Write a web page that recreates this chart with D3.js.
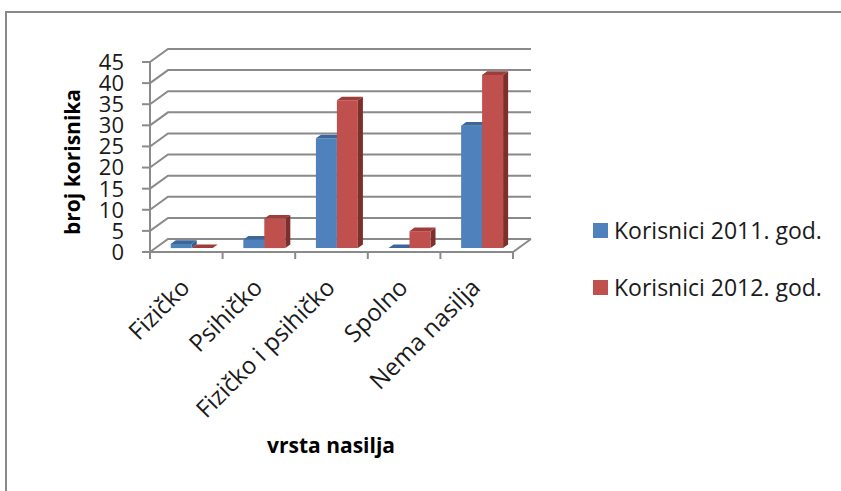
<!DOCTYPE html>
<html><head><meta charset="utf-8">
<script src="https://cdn.jsdelivr.net/npm/d3@7"></script>
<style>html,body{margin:0;padding:0;background:#fff;}svg{display:block;}</style>
</head><body>
<svg id="c" width="841" height="491"></svg>
<script>
const categories = ["Fizičko", "Psihičko", "Fizičko i psihičko", "Spolno", "Nema nasilja"];
const seriesNames = ["Korisnici 2011. god.", "Korisnici 2012. god."];
const values2011 = [1, 2, 26, 0, 29];
const values2012 = [0, 7, 35, 4, 41];
const yTicks = [0, 5, 10, 15, 20, 25, 30, 35, 40, 45];
const yTitle = "broj korisnika";
const xTitle = "vrsta nasilja";

const colors = {
  front: ["#4f81bd", "#c0504d"],
  top: ["#3d6799", "#9e3d3a"],
  side: ["#385d8a", "#7c302e"]
};
const font = "'Open Sans', sans-serif";
const svg = d3.select("#c");

// frame
svg.append("rect").attr("x", 6).attr("y", 12).attr("width", 900).attr("height", 600)
  .attr("fill", "none").attr("stroke", "#898989").attr("stroke-width", 2);

const x = d3.scaleBand().domain(categories).range([150, 513]);
const x1 = d3.scaleBand().domain(seriesNames).range([0, x.bandwidth()]).paddingOuter(0.73);
const y = d3.scaleLinear().domain([0, 45]).range([252, 62]);
const DX = 18, DY = -13;
const f0 = 0.3, f1 = 0.58;
const gridColor = "#8a8a8a";

// back wall gridlines (with left wall diagonal)
const g = svg.append("g");
yTicks.forEach(t => {
  const yy = y(t);
  g.append("path")
    .attr("d", `M${x.range()[0]},${yy} L${x.range()[0] + DX},${yy + DY} L${x.range()[1] + DX},${yy + DY}`)
    .attr("fill", "none").attr("stroke", gridColor).attr("stroke-width", 2);
});
// floor
g.append("path")
  .attr("d", `M${x.range()[0]},${y(0)} L${x.range()[1]},${y(0)} L${x.range()[1] + DX},${y(0) + DY}`)
  .attr("fill", "none").attr("stroke", gridColor).attr("stroke-width", 2);

// y axis line + ticks
g.append("line").attr("x1", 150).attr("x2", 150).attr("y1", y(45)).attr("y2", y(0))
  .attr("stroke", gridColor).attr("stroke-width", 2);
yTicks.forEach(t => {
  g.append("line").attr("x1", 142).attr("x2", 150).attr("y1", y(t)).attr("y2", y(t))
    .attr("stroke", gridColor).attr("stroke-width", 2);
  g.append("text").attr("x", 124).attr("y", y(t)).attr("dy", "0.36em")
    .attr("text-anchor", "end").attr("font-family", font).attr("font-size", 22)
    .attr("fill", "#1a1a1a").text(t);
});
// x ticks at category boundaries
const bounds = categories.map(c => x(c)).concat([x.range()[1]]);
bounds.forEach(b => {
  g.append("line").attr("x1", b).attr("x2", b).attr("y1", y(0)).attr("y2", y(0) + 7)
    .attr("stroke", gridColor).attr("stroke-width", 2);
});

// bars
const allValues = [values2011, values2012];
const bars = svg.append("g");
categories.forEach((c, i) => {
  seriesNames.forEach((s, k) => {
    const v = allValues[k][i];
    const xl = x(c) + x1(s), xr = xl + x1.bandwidth();
    const yt = y(v), yb = y(0);
    const P = (px, py, f) => [px + f * DX, py + f * DY];
    const side = [P(xr, yt, f0), P(xr, yt, f1), P(xr, yb, f1), P(xr, yb, f0)];
    const top = [P(xl, yt, f0), P(xr, yt, f0), P(xr, yt, f1), P(xl, yt, f1)];
    const front = [P(xl, yt, f0), P(xr, yt, f0), P(xr, yb, f0), P(xl, yb, f0)];
    const poly = pts => "M" + pts.map(p => p.join(",")).join("L") + "Z";
    if (v > 0) {
      bars.append("path").attr("d", poly(side)).attr("fill", colors.side[k]);
      bars.append("path").attr("d", poly(front)).attr("fill", colors.front[k]);
    }
    bars.append("path").attr("d", poly(top)).attr("fill", colors.top[k]);
  });
});

// category labels
categories.forEach(c => {
  const cx = x(c) + x.bandwidth() / 2;
  svg.append("text").attr("transform", `translate(${cx + 5},${289}) rotate(-45)`)
    .attr("text-anchor", "end").attr("font-family", font).attr("font-size", 24)
    .attr("fill", "#1a1a1a").text(c);
});

// axis titles
svg.append("text").attr("transform", `translate(${80},${162}) rotate(-90)`)
  .attr("text-anchor", "middle").attr("font-family", font).attr("font-size", 21)
  .attr("font-weight", "bold").attr("fill", "#000").text(yTitle);
svg.append("text").attr("x", 331).attr("y", 453)
  .attr("text-anchor", "middle").attr("font-family", font).attr("font-size", 21)
  .attr("font-weight", "bold").attr("fill", "#000").text(xTitle);

// legend
const legY = [231, 288];
seriesNames.forEach((s, k) => {
  svg.append("rect").attr("x", 593).attr("y", legY[k] - 8).attr("width", 15).attr("height", 15)
    .attr("fill", colors.front[k]);
  svg.append("text").attr("x", 614).attr("y", legY[k]).attr("dy", "0.36em")
    .attr("font-family", font).attr("font-size", 23).attr("fill", "#1a1a1a").text(s);
});
</script>
</body></html>
